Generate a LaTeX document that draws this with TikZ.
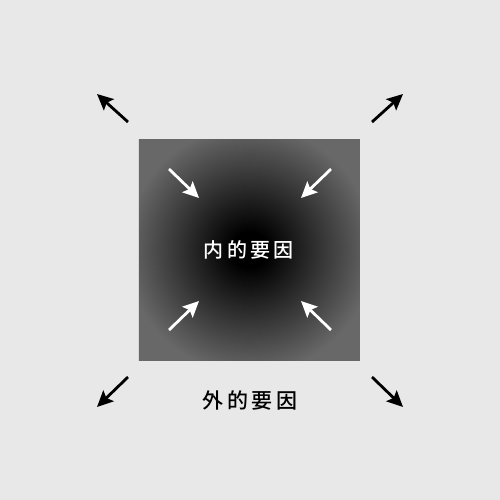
\documentclass[tikz,border=0pt]{standalone}
\usepackage{fontspec}
\newfontfamily\cjk[UprightFont={* Medium}]{Noto Sans CJK JP}
\usetikzlibrary{arrows.meta}
\definecolor{bgcol}{HTML}{E8E8E8}
\definecolor{edgegray}{HTML}{686868}
\pgfdeclareradialshading{glow}{\pgfpoint{0bp}{0bp}}{%
  color(0bp)=(black);
  color(4bp)=(black);
  color(28bp)=(edgegray);
  color(50bp)=(edgegray)}
\tikzset{
  outarrow/.style={draw=black, line width=1.4pt, -{Stealth[length=8pt,width=7.5pt,inset=1.5pt]}},
  inarrow/.style={draw=white, line width=1.4pt, -{Stealth[length=8pt,width=7.5pt,inset=1.5pt]}},
  lbl/.style={font=\cjk\fontsize{10}{12}\selectfont, inner sep=0pt}
}
\begin{document}
\begin{tikzpicture}[x=0.5pt,y=-0.5pt]
\fill[bgcol] (0,0) rectangle (500,500);
\useasboundingbox (0,0) rectangle (500,500);
\node[draw=none, minimum size=110.5pt, inner sep=0pt, shading=glow, anchor=center] (sq) at (249.5,249.5) {};
\node[lbl, text=white] (inner) at (249,250) {内\,的\,要\,因};
\node[lbl, text=black, font=\cjk\fontsize{10.5}{12}\selectfont] (outer) at (250,401) {外\,的\,要\,因};
% outer arrow coordinates
\coordinate (o1s) at (128,122); \coordinate (o1e) at (97,94);
\coordinate (o2s) at (372,122); \coordinate (o2e) at (403,94);
\coordinate (o3s) at (128,377); \coordinate (o3e) at (97,407);
\coordinate (o4s) at (372,377); \coordinate (o4e) at (403,407);
\draw[outarrow] (o1s) -- (o1e);
\draw[outarrow] (o2s) -- (o2e);
\draw[outarrow] (o3s) -- (o3e);
\draw[outarrow] (o4s) -- (o4e);
% inner arrow coordinates
\coordinate (i1s) at (169,169); \coordinate (i1e) at (199,198);
\coordinate (i2s) at (331,169); \coordinate (i2e) at (301,198);
\coordinate (i3s) at (169,330); \coordinate (i3e) at (199,301);
\coordinate (i4s) at (331,330); \coordinate (i4e) at (301,301);
\draw[inarrow] (i1s) -- (i1e);
\draw[inarrow] (i2s) -- (i2e);
\draw[inarrow] (i3s) -- (i3e);
\draw[inarrow] (i4s) -- (i4e);
\end{tikzpicture}
\end{document}
